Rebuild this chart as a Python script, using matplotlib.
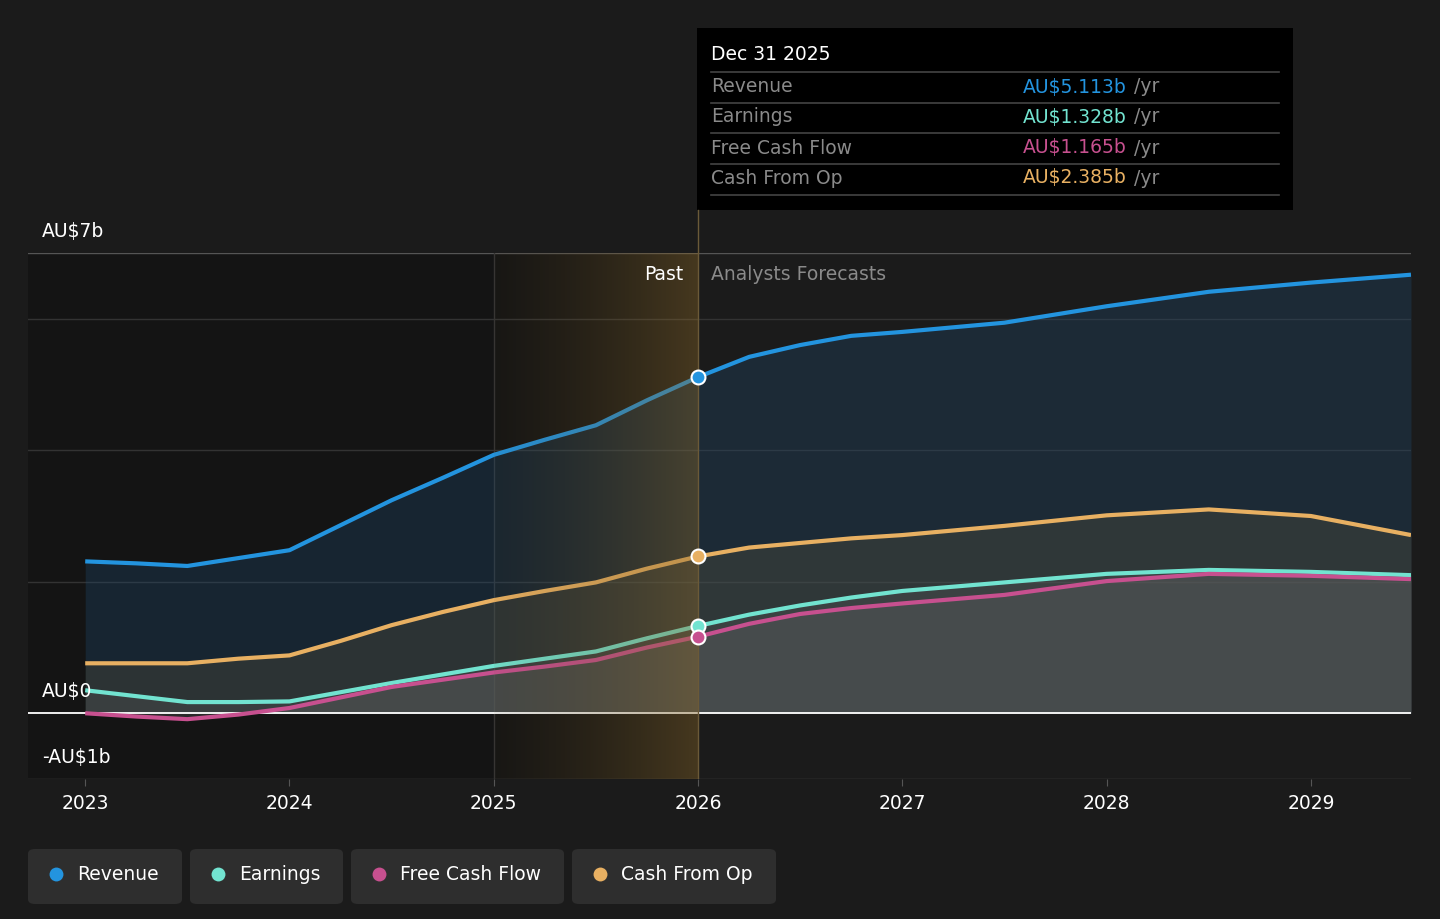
import numpy as np
import matplotlib.pyplot as plt
from matplotlib.patches import FancyBboxPatch, Rectangle
from matplotlib.lines import Line2D
from matplotlib.colors import LinearSegmentedColormap

# data (AU$ billions)
years = [2023.0, 2023.25, 2023.5, 2023.75, 2024.0, 2024.25, 2024.5, 2024.75,
         2025.0, 2025.25, 2025.5, 2025.75, 2026.0, 2026.25, 2026.5, 2026.75,
         2027.0, 2027.5, 2028.0, 2028.5, 2029.0, 2029.49]
revenue = [2.31, 2.28, 2.24, 2.36, 2.48, 2.86, 3.24, 3.58, 3.93, 4.16, 4.38, 4.76,
           5.113, 5.42, 5.60, 5.74, 5.80, 5.94, 6.19, 6.41, 6.55, 6.67]
cash_from_op = [0.76, 0.76, 0.76, 0.83, 0.88, 1.10, 1.34, 1.54, 1.72, 1.86, 1.99, 2.20,
                2.385, 2.52, 2.59, 2.66, 2.71, 2.85, 3.01, 3.10, 3.00, 2.71]
earnings = [0.35, 0.26, 0.17, 0.17, 0.18, 0.32, 0.46, 0.59, 0.72, 0.83, 0.94, 1.14,
            1.328, 1.50, 1.64, 1.76, 1.86, 1.99, 2.12, 2.18, 2.15, 2.10]
free_cash_flow = [0.0, -0.05, -0.09, -0.02, 0.08, 0.24, 0.40, 0.51, 0.62, 0.71, 0.81, 1.00,
                  1.165, 1.36, 1.51, 1.60, 1.67, 1.80, 2.01, 2.12, 2.09, 2.04]

series_names = ["Revenue", "Earnings", "Free Cash Flow", "Cash From Op"]
series_colors = ["#2394df", "#72e3d0", "#c7508f", "#e8b062"]
tooltip_values = ["AU$5.113b", "AU$1.328b", "AU$1.165b", "AU$2.385b"]
year_ticks = [2023, 2024, 2025, 2026, 2027, 2028, 2029]

BG = "#1b1b1b"
W, H = 1440, 919
FS = 13.5

fig = plt.figure(figsize=(14.4, 9.19), dpi=100, facecolor=BG)

# axes in pixel terms: x 28..1411, y 253 (7b) .. 779 (-1b)
ax = fig.add_axes([28 / W, 1 - 779 / H, (1411 - 28) / W, (779 - 253) / H])
ax.set_facecolor(BG)
x0, x1 = 2022.72, 2029.49
ax.set_xlim(x0, x1)
ax.set_ylim(-1, 7)
for s in ax.spines.values():
    s.set_visible(False)
ax.set_yticks([])
ax.set_xticks(year_ticks)
ax.set_xticklabels([str(y) for y in year_ticks], fontsize=FS)
ax.tick_params(axis="x", colors="#555555", labelcolor="white", length=5, pad=6)

# past region darker, highlight band 2025-2026
ax.add_patch(Rectangle((x0, -1), 2026 - x0, 8, color="#141414", zorder=0, lw=0))
grad = np.linspace(0, 1, 256).reshape(1, -1)
cmap = LinearSegmentedColormap.from_list(
    "band", [(0.35, 0.27, 0.12, 0.06), (0.55, 0.42, 0.18, 0.42)])
ax.imshow(grad, extent=[2025, 2026, -1, 7], aspect="auto", cmap=cmap, zorder=4)

# gridlines
for g in [2, 4, 6]:
    ax.axhline(g, color="#333333", lw=1, zorder=1)
ax.axhline(7, color="#555555", lw=1, zorder=1)
ax.axhline(-1, color="#444444", lw=1, zorder=1)
ax.axvline(2025, color="#353535", lw=1, zorder=1)
ax.axvline(2026, color="#6b5a38", lw=1, zorder=5)

# fills under each line
fills = [(revenue, "#1f4d75", 0.3), (cash_from_op, "#6b6040", 0.25),
         (earnings, "#5a5a5a", 0.3), (free_cash_flow, "#6a6a6a", 0.25)]
for vals, c, a in fills:
    ax.fill_between(years, vals, 0, color=c, alpha=a, lw=0, zorder=2)

ax.axhline(0, color="white", lw=1.3, zorder=3)

idx = years.index(2026.0)
plot_order = [(revenue, 0), (cash_from_op, 3), (earnings, 1), (free_cash_flow, 2)]
for vals, i in plot_order:
    ax.plot(years, vals, color=series_colors[i], lw=3, zorder=3,
            solid_capstyle="butt", solid_joinstyle="round")
    ax.plot(years[idx], vals[idx], "o", ms=10, mfc=series_colors[i], mec="white",
            mew=1.5, zorder=6)

# y labels sit just above their lines
for v, lab in [(7, "AU$7b"), (0, "AU$0"), (-1, "-AU$1b")]:
    ax.text(14 / (1411 - 28), v + 0.18, lab, transform=ax.get_yaxis_transform(),
            color="white", fontsize=FS, va="bottom", ha="left", zorder=7)

ax.text(2026 - 15 / 204.4, 6.68, "Past", color="white", fontsize=FS,
        ha="right", va="center", zorder=7)
ax.text(2026 + 13 / 204.4, 6.68, "Analysts Forecasts", color="#8a8a8a",
        fontsize=FS, ha="left", va="center", zorder=7)


# tooltip
def fx(px):
    return px / W


def fy(py):
    return 1 - py / H


fig.add_artist(Line2D([fx(698), fx(698)], [fy(210), fy(253)], color="#6b5a38", lw=1))
fig.add_artist(Rectangle((fx(697), fy(210)), fx(1293) - fx(697), fy(28) - fy(210),
                         transform=fig.transFigure, color="black", lw=0))
fig.text(fx(711), fy(55), "Dec 31 2025", color="white", fontsize=FS, va="center")
for py in [72, 103, 133, 164, 195]:
    fig.add_artist(Line2D([fx(711), fx(1279)], [fy(py), fy(py)], color="#444444", lw=1.2))
row_y = [87, 117, 148, 178]
fig.canvas.draw()
for i, name in enumerate(series_names):
    fig.text(fx(711), fy(row_y[i]), name, color="#8a8a8a", fontsize=FS, va="center")
    t = fig.text(fx(1023), fy(row_y[i]), tooltip_values[i], color=series_colors[i],
                 fontsize=FS, va="center")
    bb = t.get_window_extent(renderer=fig.canvas.get_renderer())
    fig.text((bb.x1 + 7) / W, fy(row_y[i]), "/yr", color="#8a8a8a", fontsize=FS,
             va="center")

# legend buttons
boxes = [(28, 182), (190, 343), (351, 564), (572, 776)]
for i, (bx0, bx1) in enumerate(boxes):
    fig.add_artist(FancyBboxPatch((fx(bx0), fy(904)), fx(bx1 - bx0), fy(849) - fy(904),
                                  boxstyle="round,pad=0,rounding_size=0.005",
                                  transform=fig.transFigure, fc="#2e2e2e", ec="none"))
    fig.add_artist(Line2D([fx(bx0 + 28)], [fy(874)], marker="o", ms=10,
                          color=series_colors[i], mec="none"))
    fig.text(fx(bx0 + 49), fy(874), series_names[i], color="white", fontsize=FS,
             va="center")

fig.savefig("out.png", dpi=100, facecolor=BG)
